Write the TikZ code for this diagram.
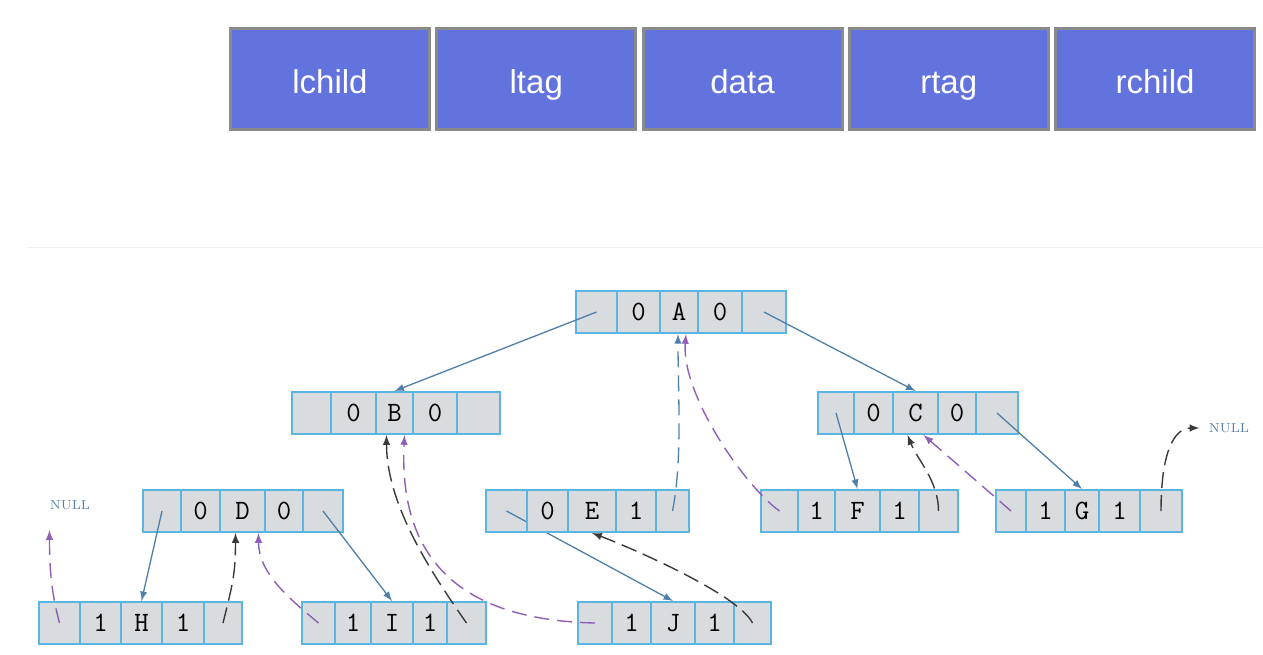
\documentclass[tikz,border=0pt]{standalone}
\usepackage{fontspec}
\newfontfamily\hdfont{Liberation Sans}
\usetikzlibrary{arrows}

\definecolor{fieldblue}{HTML}{6273DE}
\definecolor{fieldgray}{HTML}{8A8A8A}
\definecolor{cellblue}{HTML}{5BB5E3}
\definecolor{cellgray}{HTML}{D9DCDE}
\definecolor{linkblue}{HTML}{4E7FAA}
\definecolor{rblack}{HTML}{3A3A3A}
\definecolor{lpurple}{HTML}{8F5FB8}
\definecolor{nullblue}{HTML}{5A7FA8}
\definecolor{sepgray}{HTML}{F0F0F0}

\begin{document}
\begin{tikzpicture}[>=latex,x=0.5pt,y=-0.5pt,
  field/.style={draw=fieldgray,fill=fieldblue,line width=1.5pt,minimum width=99.5pt,
    minimum height=50.5pt,inner sep=0pt,text height=16pt,text depth=2pt,text=white,
    font=\hdfont\fontsize{16.5}{16.5}\selectfont},
  cell/.style={draw=cellblue,fill=cellgray,line width=1pt,minimum height=21pt,inner sep=0pt,
    text height=8.6pt,text depth=0pt,font=\ttfamily\fontsize{14}{14}\selectfont},
  child/.style={->,draw=linkblue,line width=0.65pt},
  rthread/.style={->,draw=rblack,line width=0.7pt,dash pattern=on 8pt off 3.5pt},
  lthread/.style={->,draw=lpurple,line width=0.7pt,dash pattern=on 7.5pt off 4pt},
  nullmark/.style={text=nullblue,inner sep=0pt,font=\rmfamily\fontsize{6.5}{6.5}\selectfont}]
  \useasboundingbox (0,0) rectangle (1263,654);
  % node layout
  \foreach \t [count=\i] in {lchild,ltag,data,rtag,rchild}
    \node[field] (f\i) at ({330+206.25*(\i-1)},79) {\t};
  \draw[sepgray,line width=0.5pt] (27,247) -- (1263,247);
  % threaded tree
  \foreach \n/\y/\a/\b/\c/\d/\e/\f/\l/\m/\r in {
      A/312/576/617/660/698/742/786/0/A/0,
      B/413/292/331/376/413/457/500/0/B/0,
      C/413/818/854/893/938/976/1018/0/C/0,
      D/511/143/181/220/265/303/343/0/D/0,
      E/511/486/527/568/616/656/689/0/E/1,
      F/511/761/798/835/880/919/958/1/F/1,
      G/511/996/1026/1065/1099/1140/1182/1/G/1,
      H/623/39/80/121/162/204/242/1/H/1,
      I/623/302/335/371/413/447/486/1/I/1,
      J/623/578/612/651/695/734/771/1/J/1} {
    \node[cell,minimum width={(\b-\a)*0.5pt}] (\n1) at ({(\a+\b)/2},\y) {};
    \node[cell,minimum width={(\c-\b)*0.5pt}] (\n2) at ({(\b+\c)/2},\y) {\l};
    \node[cell,minimum width={(\d-\c)*0.5pt}] (\n3) at ({(\c+\d)/2},\y) {\m};
    \node[cell,minimum width={(\e-\d)*0.5pt}] (\n4) at ({(\d+\e)/2},\y) {\r};
    \node[cell,minimum width={(\f-\e)*0.5pt}] (\n5) at ({(\e+\f)/2},\y) {};
  }
  \node[nullmark] (nullL) at (70,505) {NULL};
  \node[nullmark] (nullR) at (1229,428) {NULL};
  % child links
  \draw[child] (A1.center) -- (B3.north);
  \draw[child] (A5.center) -- (C3.north);
  \draw[child] (C1.center) -- (F3.north);
  \draw[child] (C5.center) -- (G3.north);
  \draw[child] (D1.center) -- (H3.north);
  \draw[child] (D5.center) -- (I3.north);
  \begin{scope}[even odd rule]
    \clip (E2.south west) rectangle (E2.north east) (0,0) rectangle (1263,654);
    \draw[child] (E1.center) -- (J3.north);
  \end{scope}
  % threads
  \draw[lthread] (H1.center) .. controls +(-8,-30) and +(0,40) .. ([yshift=-10pt]nullL.south west);
  \draw[rthread] (H5.center) .. controls +(10,-40) and +(0,40) .. ([xshift=-3.5pt]D3.south);
  \draw[lthread] (I1.center) .. controls +(-30,-25) and +(0,40) .. ([xshift=8pt]D3.south);
  \draw[rthread] (I5.center) .. controls +(-35,-50) and +(0,70) .. ([xshift=-4pt]B3.south);
  \draw[lthread] (J1.center) .. controls +(-135,-3) and +(-6,124) .. ([xshift=5pt]B3.south);
  \draw[rthread] (J5.center) .. controls +(-15,-30) and +(32,12) .. (E3.south);
  \draw[child,dash pattern=on 8pt off 4pt] (E5.center) .. controls +(10,-50) and +(0,60) .. ([xshift=-0.5pt]A3.south);
  \draw[lthread] (F1.center) .. controls +(-35,-25) and +(-5,60) .. ([xshift=3.5pt]A3.south);
  \draw[rthread] (F5.center) .. controls +(0,-30) and +(10,25) .. ([xshift=-4pt]C3.south);
  \draw[lthread] (G1.center) -- ([xshift=4pt]C3.south);
  \draw[rthread] (G5.center) .. controls +(0,-60) and +(-25,0) .. ([xshift=-4.5pt]nullR.west);
\end{tikzpicture}
\end{document}
